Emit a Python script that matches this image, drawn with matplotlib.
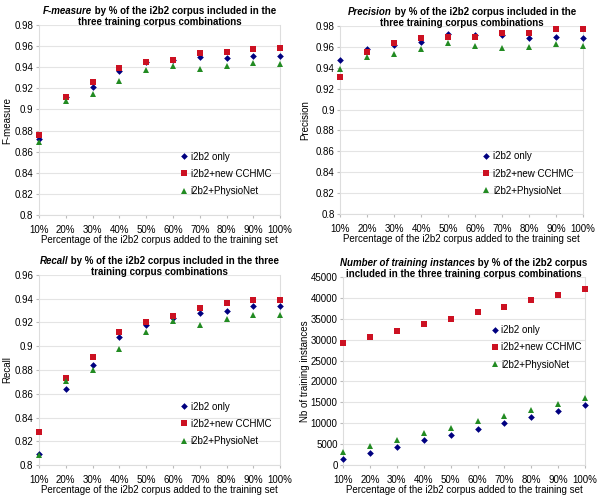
import matplotlib.pyplot as plt
from matplotlib.ticker import FixedLocator

plt.rcParams["font.family"] = ["Liberation Sans", "DejaVu Sans"]

# Percentages of the i2b2 corpus
pct_labels = ["10%", "20%", "30%", "40%", "50%", "60%", "70%", "80%", "90%", "100%"]
series_names = ["i2b2 only", "i2b2+new CCHMC", "i2b2+PhysioNet"]

# F-measure
f_only = [0.872, 0.912, 0.921, 0.936, 0.945, 0.947, 0.950, 0.949, 0.951, 0.951]
f_cchmc = [0.876, 0.912, 0.926, 0.939, 0.945, 0.947, 0.953, 0.954, 0.957, 0.958]
f_physio = [0.869, 0.908, 0.915, 0.927, 0.937, 0.941, 0.938, 0.941, 0.944, 0.943]

# Precision
p_only = [0.947, 0.9575, 0.962, 0.965, 0.972, 0.971, 0.971, 0.968, 0.969, 0.968]
p_cchmc = [0.931, 0.955, 0.964, 0.968, 0.969, 0.969, 0.973, 0.973, 0.977, 0.977]
p_physio = [0.939, 0.950, 0.953, 0.9575, 0.964, 0.961, 0.959, 0.960, 0.963, 0.961]

# Recall
r_only = [0.809, 0.864, 0.884, 0.908, 0.918, 0.924, 0.928, 0.930, 0.934, 0.934]
r_cchmc = [0.8275, 0.873, 0.891, 0.912, 0.920, 0.925, 0.932, 0.936, 0.9386, 0.939]
r_physio = [0.8085, 0.871, 0.880, 0.898, 0.912, 0.921, 0.918, 0.923, 0.926, 0.926]

# Number of training instances
n_only = [1440, 2950, 4390, 5900, 7180, 8620, 10130, 11570, 13010, 14450]
n_cchmc = [29130, 30650, 32080, 33680, 35040, 36550, 37830, 39350, 40700, 42140]
n_physio = [3110, 4630, 5990, 7580, 8940, 10460, 11810, 13250, 14690, 16040]

colors = ["#000080", "#cc1122", "#228b22"]
markers = ["D", "s", "^"]
msizes = [3.4, 4.2, 4.5]

fig = plt.figure(figsize=(6, 4.97), dpi=100)

panels = [
    # rect, data, ylim, yticks, ylabel, ylabel x, italic part, rest line1, line2, legend anchor
    ([0.065, 0.567, 0.402, 0.383], (f_only, f_cchmc, f_physio), (0.8, 0.98),
     [0.8, 0.82, 0.84, 0.86, 0.88, 0.9, 0.92, 0.94, 0.96, 0.98], "F-measure", -0.11,
     "F-measure", " by % of the i2b2 corpus included in the", "three training corpus combinations",
     (0.565, 0.36)),
    ([0.567, 0.569, 0.405, 0.379], (p_only, p_cchmc, p_physio), (0.8, 0.98),
     [0.8, 0.82, 0.84, 0.86, 0.88, 0.9, 0.92, 0.94, 0.96, 0.98], "Precision", -0.125,
     "Precision", " by % of the i2b2 corpus included in the", "three training corpus combinations",
     (0.565, 0.36)),
    ([0.065, 0.064, 0.402, 0.383], (r_only, r_cchmc, r_physio), (0.8, 0.96),
     [0.8, 0.82, 0.84, 0.86, 0.88, 0.9, 0.92, 0.94, 0.96], "Recall", -0.11,
     "Recall", " by % of the i2b2 corpus included in the three", "training corpus combinations",
     (0.565, 0.36)),
    ([0.572, 0.064, 0.403, 0.379], (n_only, n_cchmc, n_physio), (0, 45000),
     list(range(0, 45001, 5000)), "Nb of training instances", -0.138,
     "Number of training instances", " by % of the i2b2 corpus",
     "included in the three training corpus combinations",
     (0.59, 0.77)),
]

fig.canvas.draw()
renderer = fig.canvas.get_renderer()

for rect, data, ylim, yticks, ylabel, ylab_x, ital, rest, line2, anchor in panels:
    ax = fig.add_axes(rect)
    x = list(range(len(pct_labels)))
    for vals, c, m, ms, name in zip(data, colors, markers, msizes, series_names):
        ax.plot(x, vals, linestyle="none", marker=m, color=c, markersize=ms,
                markeredgewidth=0, label=name, clip_on=False, zorder=4)
    ax.set_xlim(0, len(pct_labels) - 1)
    ax.set_ylim(*ylim)
    ax.yaxis.set_major_locator(FixedLocator(yticks))
    if ylim[1] > 10:
        ax.set_yticklabels([str(t) for t in yticks])
    else:
        ax.set_yticklabels([("%g" % t) for t in yticks])
    ax.set_xticks(x)
    ax.set_xticklabels(pct_labels)
    ax.tick_params(axis="both", labelsize=7, length=2, color="#bbbbbb", pad=2)
    ax.tick_params(axis="x", pad=5)
    ax.grid(axis="y", color="#e4e4e4", linewidth=0.8)
    ax.set_axisbelow(True)
    ax.spines["top"].set_visible(False)
    for s in ["left", "bottom", "right"]:
        ax.spines[s].set_color("#dddddd")
        ax.spines[s].set_linewidth(0.8)
    ax.set_xlabel("Percentage of the i2b2 corpus added to the training set", fontsize=7, labelpad=0)
    ax.set_ylabel(ylabel, fontsize=7)
    ax.yaxis.set_label_coords(ylab_x, 0.5)
    ax.legend(loc="upper left", bbox_to_anchor=anchor, frameon=False, fontsize=7,
              handlelength=0.8, handletextpad=0.3, labelspacing=0.75, borderpad=0)

    # two-line title, first part of line 1 in italics
    cx = rect[0] + rect[2] / 2
    y1 = rect[1] + rect[3] + 0.022
    y2 = rect[1] + rect[3] + 0.0
    t1 = fig.text(0, y1, ital, fontsize=7, fontweight="bold", fontstyle="italic", va="baseline")
    t2 = fig.text(0, y1, rest, fontsize=7, fontweight="bold", va="baseline")
    w1 = t1.get_window_extent(renderer).width / fig.bbox.width
    w2 = t2.get_window_extent(renderer).width / fig.bbox.width
    start = cx - (w1 + w2) / 2
    t1.set_x(start)
    t2.set_x(start + w1)
    fig.text(cx, y2, line2, fontsize=7, fontweight="bold", ha="center", va="baseline")

plt.savefig("out.png", dpi=100)
